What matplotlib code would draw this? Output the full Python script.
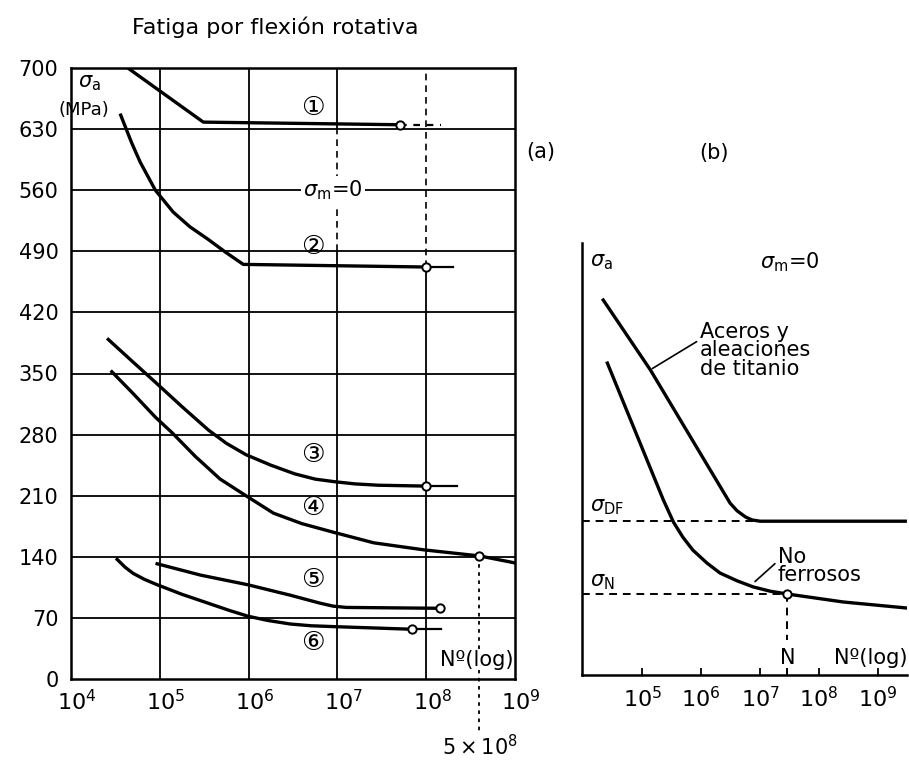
import matplotlib
matplotlib.use("Agg")
import matplotlib.pyplot as plt
import matplotlib.transforms as mtransforms

plt.rcParams['font.family'] = ['DejaVu Sans']

# ---- panel (a): rotating bending fatigue, log10(N) vs sigma_a (MPa)
c1_n = [4.64, 5.49, 7.70]
c1_s = [700, 638, 635]
c1_tail_n = [7.70, 8.17]
c1_tail_s = [635, 635]

c2_n = [4.56, 4.68, 4.78, 4.95, 5.15, 5.34, 5.54, 5.74, 5.94, 8.00]
c2_s = [646, 615, 592, 560, 535, 518, 504, 489, 475, 472]
c2_tail_n = [8.00, 8.30]
c2_tail_s = [472, 472]

c3_n = [4.42, 4.70, 4.95, 5.25, 5.55, 5.75, 5.97, 6.25, 6.52, 6.75, 6.97, 7.20, 7.46, 8.00]
c3_s = [389, 363, 340, 312, 285, 270, 257, 245, 235, 229, 226, 223.5, 222, 221]
c3_tail_n = [8.00, 8.35]
c3_tail_s = [221, 221]

c4_n = [4.46, 4.70, 4.95, 5.14, 5.40, 5.68, 5.97, 6.28, 6.60, 6.96, 7.41, 7.97, 8.60, 9.00]
c4_s = [352, 327, 300, 282, 255, 229, 210, 190, 178, 168, 156, 148, 141, 133]
c4_mark = (8.60, 141)  # marked as 5x10^8

c5_n = [4.97, 5.46, 5.99, 6.47, 6.80, 6.95, 7.10, 8.16]
c5_s = [132, 119, 108, 96, 87, 83.5, 82, 81]

c6_n = [4.52, 4.61, 4.70, 4.83, 4.97, 5.25, 5.54, 5.77, 5.99, 6.22, 6.47, 6.70, 6.96, 7.84]
c6_s = [137, 128, 121, 114, 108, 97, 87, 79, 72, 67, 63, 61, 60, 57]
c6_tail_n = [7.84, 8.17]
c6_tail_s = [57, 57]

circle_labels = ['①', '②', '③', '④', '⑤', '⑥']
label_n = 6.72
label_s = [654, 495, 257, 196, 113, 41]

y_ticks = list(range(0, 701, 70))
x_decades = [4, 5, 6, 7, 8, 9]

# ---- panel (b): schematic curves (relative units 0-100)
steel_n = [4.34, 5.14, 6.49, 6.61, 6.75, 6.86, 7.00, 9.46]
steel_s = [86.8, 70.6, 39.8, 38.0, 36.6, 35.9, 35.6, 35.6]
nonfe_n = [4.41, 5.36, 5.53, 5.69, 5.86, 6.10, 6.32, 6.61, 6.88, 7.17, 7.46, 8.41, 9.49]
nonfe_s = [72.2, 40.5, 35.4, 31.9, 28.9, 25.9, 23.6, 21.8, 20.4, 19.4, 18.75, 16.9, 15.5]
sigma_df = 35.6
sigma_n = 18.75
n_point = 7.46
b_decades = [5, 6, 7, 8, 9]

fig = plt.figure(figsize=(9.09, 7.6), dpi=100)
W, H = 909, 760


def px_axes(l, t, r, b):
    return fig.add_axes([l / W, 1 - b / H, (r - l) / W, (b - t) / H])


def lg(v):
    return [10.0 ** t for t in v]


lw_curve = 2.4
fs = 15
dash = (0, (4, 3))

# ================= (a)
ax = px_axes(71, 68, 515, 679)
ax.set_xscale('log')
ax.set_xlim(1e4, 1e9)
ax.set_ylim(0, 700)
for sp in ax.spines.values():
    sp.set_linewidth(1.8)

for y in y_ticks[1:-1]:
    ax.axhline(y, color='black', lw=1.3, zorder=1)
for d in x_decades[1:-1]:
    x = 10.0 ** d
    if d == 7:
        ax.plot([x, x], [0, 490], color='black', lw=1.3, zorder=1)
        ax.plot([x, x], [490, 630], color='black', lw=1.2, ls=dash, zorder=1)
        ax.plot([x, x], [630, 700], color='black', lw=1.3, zorder=1)
    elif d == 8:
        ax.plot([x, x], [0, 472], color='black', lw=1.3, zorder=1)
        ax.plot([x, x], [472, 700], color='black', lw=1.2, ls=dash, zorder=1)
    else:
        ax.axvline(x, color='black', lw=1.3, zorder=1)

ax.set_yticks(y_ticks)
ax.set_yticklabels([str(v) for v in y_ticks], fontsize=fs)
ax.set_xticks(lg(x_decades))
ax.set_xticklabels([f'$10^{{{d}}}$' for d in x_decades], fontsize=fs + 1)
ax.minorticks_off()
ax.tick_params(axis='both', length=0)
ax.tick_params(axis='y', pad=9)
ax.tick_params(axis='x', pad=7)
shift = mtransforms.ScaledTranslation(6 / 100, 0, fig.dpi_scale_trans)
for lbl in ax.get_xticklabels():
    lbl.set_transform(lbl.get_transform() + shift)

curves = [(c1_n, c1_s), (c2_n, c2_s), (c3_n, c3_s), (c4_n, c4_s), (c5_n, c5_s), (c6_n, c6_s)]
for n, s in curves:
    ax.plot(lg(n), s, color='black', lw=lw_curve, zorder=3, solid_joinstyle='round')

ax.plot(lg(c1_tail_n), c1_tail_s, color='black', lw=1.6, ls=(0, (3, 3)), zorder=3)
for tn, ts in [(c2_tail_n, c2_tail_s), (c3_tail_n, c3_tail_s), (c6_tail_n, c6_tail_s)]:
    ax.plot(lg(tn), ts, color='black', lw=1.6, zorder=3)

# endurance markers
marks = [(c1_n[-1], c1_s[-1]), (c2_n[-1], c2_s[-1]), (c3_n[-1], c3_s[-1]),
         c4_mark, (c5_n[-1], c5_s[-1]), (c6_n[-1], c6_s[-1])]
for n, s in marks:
    ax.plot(10.0 ** n, s, 'o', ms=6, mfc='white', mec='black', mew=1.4, zorder=5)

# 5x10^8 dotted guide
ax.plot([10.0 ** c4_mark[0]] * 2, [c4_mark[1], -60], color='black', lw=1.3,
        ls=(0, (2, 2.5)), clip_on=False, zorder=4)
ax.text(10.0 ** c4_mark[0], -78, r'$5\times10^{8}$', ha='center', va='center',
        fontsize=fs, clip_on=False)

for lab, s in zip(circle_labels, label_s):
    ax.text(10.0 ** label_n, s, lab, ha='center', va='center', fontsize=fs + 4,
            zorder=6)

ax.text(10.0 ** 6.95, 560, r'$\sigma_\mathrm{m}$=0', ha='center', va='center',
        fontsize=fs, bbox=dict(facecolor='white', edgecolor='none', pad=2), zorder=6)
ax.text(10.0 ** 4.08, 683, r'$\sigma_\mathrm{a}$', ha='left', va='center', fontsize=fs)
ax.text(10.0 ** 3.86, 652, '(MPa)', ha='left', va='center', fontsize=fs - 2,
        clip_on=False, zorder=2)
ax.text(10.0 ** 8.98, 22, 'Nº(log)', ha='right', va='center', fontsize=fs,
        bbox=dict(facecolor='white', edgecolor='none', pad=0.5), zorder=6)

fig.text(275 / W, 1 - 27 / H, 'Fatiga por flexión rotativa', ha='center', va='center',
         fontsize=fs + 1)
fig.text(541 / W, 1 - 152 / H, '(a)', ha='center', va='center', fontsize=fs)
fig.text(714 / W, 1 - 153 / H, '(b)', ha='center', va='center', fontsize=fs)

# ================= (b)
bx = px_axes(582, 243, 907, 675)
bx.set_xscale('log')
bx.set_xlim(10 ** 3.98, 10 ** 9.49)
bx.set_ylim(0, 100)
for side in ['top', 'right']:
    bx.spines[side].set_visible(False)
for side in ['left', 'bottom']:
    bx.spines[side].set_linewidth(1.8)
bx.set_yticks([])
bx.set_xticks(lg(b_decades))
bx.set_xticklabels([f'$10^{{{d}}}$' for d in b_decades], fontsize=fs + 1)
bx.minorticks_off()
bx.tick_params(axis='x', direction='in', length=5, width=1.3, pad=8)

bx.plot(lg(steel_n), steel_s, color='black', lw=lw_curve, solid_joinstyle='round')
bx.plot(lg(nonfe_n), nonfe_s, color='black', lw=lw_curve, solid_joinstyle='round')
bx.plot([10 ** 3.98, 10.0 ** steel_n[6]], [sigma_df, sigma_df], color='black',
        lw=1.4, ls=dash)
bx.plot([10 ** 3.98, 10.0 ** n_point], [sigma_n, sigma_n], color='black', lw=1.4,
        ls=dash)
bx.plot([10.0 ** n_point] * 2, [sigma_n, 8], color='black', lw=1.4, ls=dash)
bx.plot([10.0 ** n_point] * 2, [0, 1.5], color='black', lw=1.4)
bx.plot(10.0 ** n_point, sigma_n, 'o', ms=6, mfc='white', mec='black', mew=1.4,
        zorder=5)

bx.text(0.025, 0.956, r'$\sigma_\mathrm{a}$', transform=bx.transAxes, ha='left',
        va='center', fontsize=fs)
bx.text(0.64, 0.956, r'$\sigma_\mathrm{m}$=0', transform=bx.transAxes, ha='center',
        va='center', fontsize=fs)
bx.text(0.025, 0.39, r'$\sigma_\mathrm{DF}$', transform=bx.transAxes, ha='left',
        va='center', fontsize=fs)
bx.text(0.025, 0.215, r'$\sigma_\mathrm{N}$', transform=bx.transAxes, ha='left',
        va='center', fontsize=fs)
bx.text(0.363, 0.752, 'Aceros y\naleaciones\nde titanio', transform=bx.transAxes,
        ha='left', va='center', fontsize=fs, linespacing=0.9)
bx.annotate('', xy=(0.209, 0.706), xytext=(0.36, 0.775), xycoords='axes fraction',
            arrowprops=dict(arrowstyle='-', color='black', lw=1.2))
bx.text(0.603, 0.252, 'No\nferrosos', transform=bx.transAxes, ha='left',
        va='center', fontsize=fs, linespacing=0.9)
bx.annotate('', xy=(0.526, 0.212), xytext=(0.6, 0.262), xycoords='axes fraction',
            arrowprops=dict(arrowstyle='-', color='black', lw=1.2))
bx.text(10.0 ** n_point, 4, 'N', ha='center', va='center', fontsize=fs)
bx.text(1.0, 0.04, 'Nº(log)', transform=bx.transAxes, ha='right', va='center',
        fontsize=fs)

fig.savefig('out.png', dpi=100, facecolor='white')
